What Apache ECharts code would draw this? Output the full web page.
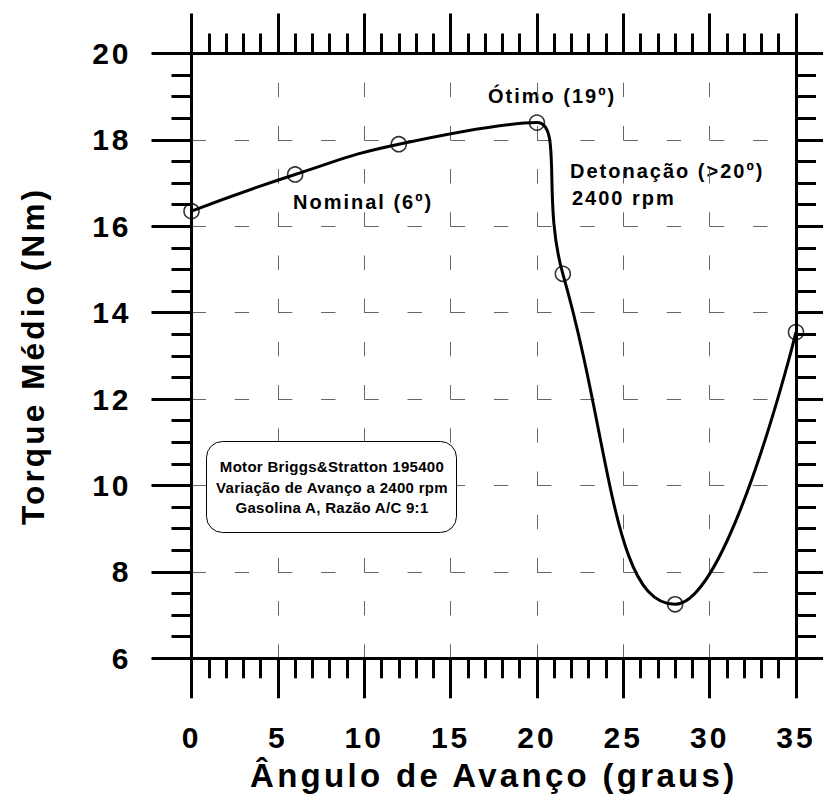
<!DOCTYPE html>
<html>
<head>
<meta charset="utf-8">
<script src="https://cdn.jsdelivr.net/npm/echarts@6/dist/echarts.min.js"></script>
<style>
  html, body { margin: 0; padding: 0; background: #fff; }
  #chart { width: 823px; height: 798px; }
  /* wide tracking on the bold labels, tighter inside the info box */
  #chart svg text { letter-spacing: 0.1em; }
  #chart svg text[style*="15px"] { letter-spacing: 0.3px; }
</style>
</head>
<body>
<div id="chart"></div>
<script>
// Ignition advance (degrees) vs. mean torque (Nm)
const avanco = [0, 6, 12, 20, 21.5, 28, 35];
const torque = [16.35, 17.2, 17.9, 18.4, 14.9, 7.25, 13.55];

// Axis tick labels
const xTicks = [0, 5, 10, 15, 20, 25, 30, 35];
const yTicks = [6, 8, 10, 12, 14, 16, 18, 20];

const xTitle = 'Ângulo de Avanço (graus)';
const yTitle = 'Torque Médio (Nm)';

const infoLines = [
  'Motor Briggs&Stratton 195400',
  'Variação de Avanço a 2400 rpm',
  'Gasolina A, Razão A/C 9:1'
];

const FONT = "'Liberation Sans', Arial, Helvetica, sans-serif";
const points = avanco.map((x, i) => [x, torque[i]]);

const xMin = xTicks[0], xMax = xTicks[xTicks.length - 1], xStep = xTicks[1] - xTicks[0];
const yMin = yTicks[0], yMax = yTicks[yTicks.length - 1], yStep = yTicks[1] - yTicks[0];

const blackLine = { color: '#000', width: 3 };
const gridDash = { color: '#666', width: 1, type: [14.4, 28.8] };

function xAxisDef(pos) {
  const bottom = pos === 'bottom';
  return {
    type: 'value', position: pos, min: xMin, max: xMax, interval: xStep,
    axisLine: { show: true, onZero: false, lineStyle: blackLine },
    axisTick: { show: true, inside: false, length: 40, lineStyle: blackLine },
    minorTick: { show: true, splitNumber: 5, length: 20, lineStyle: blackLine },
    axisLabel: bottom
      ? { show: true, margin: 64, fontSize: 30, fontWeight: 'bold', color: '#000', fontFamily: FONT }
      : { show: false },
    splitLine: bottom
      ? { show: true, lineStyle: Object.assign({ dashOffset: 14.4 }, gridDash) }
      : { show: false },
    minorSplitLine: { show: false },
    name: bottom ? xTitle : '',
    nameLocation: 'middle', nameGap: 101, nameMoveOverlap: false,
    nameTextStyle: { fontSize: 33, fontWeight: 'bold', color: '#000', fontFamily: FONT }
  };
}

function yAxisDef(pos) {
  const left = pos === 'left';
  return {
    type: 'value', position: pos, min: yMin, max: yMax, interval: yStep,
    axisLine: { show: true, onZero: false, lineStyle: blackLine },
    axisTick: { show: true, inside: false, length: 40, lineStyle: blackLine },
    minorTick: { show: true, splitNumber: 4, length: 20, lineStyle: blackLine },
    axisLabel: left
      ? { show: true, margin: 60, fontSize: 30, fontWeight: 'bold', color: '#000', fontFamily: FONT }
      : { show: false },
    splitLine: left
      ? { show: true, lineStyle: Object.assign({ dashOffset: 0 }, gridDash) }
      : { show: false },
    minorSplitLine: { show: false },
    name: left ? yTitle : '',
    nameLocation: 'middle', nameGap: 143, nameRotate: 90, nameMoveOverlap: false,
    nameTextStyle: { fontSize: 31.5, fontWeight: 'bold', color: '#000', fontFamily: FONT }
  };
}

const chart = echarts.init(document.getElementById('chart'), null, { renderer: 'svg' });

chart.setOption({
  animation: false,
  backgroundColor: '#fff',
  grid: { left: 191.5, top: 53.5, right: 27, bottom: 139.7, outerBoundsMode: 'none', containLabel: false },
  xAxis: [xAxisDef('bottom'), xAxisDef('top')],
  yAxis: [yAxisDef('left'), yAxisDef('right')],
  series: [
    {
      name: 'curva', type: 'line', data: points, smooth: 0.5,
      symbol: 'none', clip: false, z: 3,
      lineStyle: { color: '#000', width: 3 }
    },
    {
      name: 'ensaios', type: 'scatter', data: points, clip: false, z: 4,
      symbol: 'circle', symbolSize: 15,
      itemStyle: { color: 'rgba(0,0,0,0)', borderColor: '#000', borderWidth: 1.6 }
    }
  ],
  graphic: [
    { type: 'text', x: 293, y: 201.5, z: -1,
      style: { text: 'Nominal (6º)', font: 'bold 20px ' + FONT, fill: '#000', textAlign: 'left', textVerticalAlign: 'middle' } },
    { type: 'text', x: 488, y: 96, z: -1,
      style: { text: 'Ótimo (19º)', font: 'bold 20px ' + FONT, fill: '#000', textAlign: 'left', textVerticalAlign: 'middle' } },
    { type: 'text', x: 570, y: 171, z: -1,
      style: { text: 'Detonação (>20º)', font: 'bold 20px ' + FONT, fill: '#000', textAlign: 'left', textVerticalAlign: 'middle' } },
    { type: 'text', x: 572, y: 197.5, z: -1,
      style: { text: '2400 rpm', font: 'bold 20px ' + FONT, fill: '#000', textAlign: 'left', textVerticalAlign: 'middle' } },
    { type: 'rect', z: 10,
      shape: { x: 206.5, y: 441.5, width: 250, height: 91, r: 16 },
      style: { fill: '#fff', stroke: '#000', lineWidth: 1 } },
    { type: 'text', x: 332, y: 487, z: 11,
      style: { text: infoLines.join('\n'), font: 'bold 15px ' + FONT, lineHeight: 20.5,
               fill: '#000', textAlign: 'center', textVerticalAlign: 'middle' } }
  ]
});
</script>
</body>
</html>
